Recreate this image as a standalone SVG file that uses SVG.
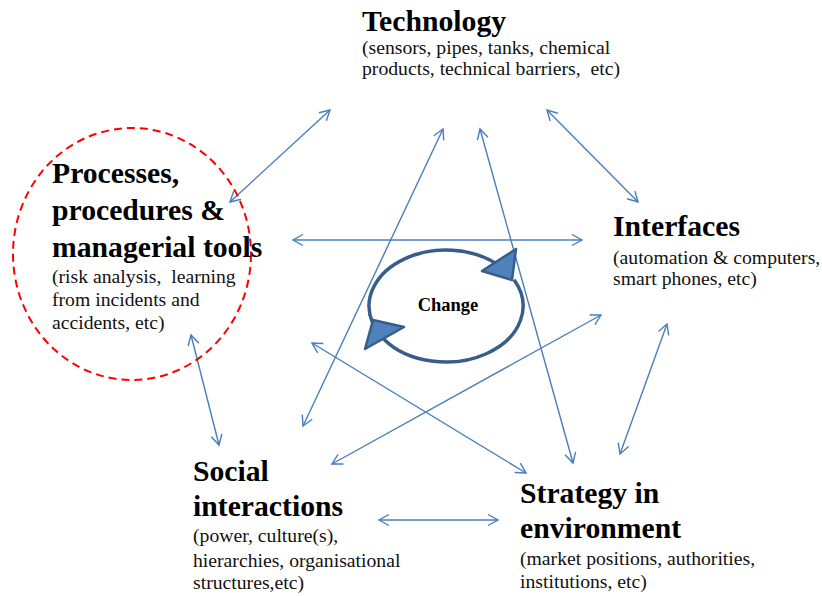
<svg xmlns="http://www.w3.org/2000/svg" width="822" height="596" viewBox="0 0 822 596">
<style>
.t{font-family:"Liberation Serif","Times New Roman",serif;font-weight:bold;font-size:29.7px;fill:#000}
.s{font-family:"Liberation Serif","Times New Roman",serif;font-size:19.7px;fill:#111}
.c{stroke:#4a7ebb;stroke-width:1.4;fill:none;marker-start:url(#ah);marker-end:url(#ah)}
.arc{fill:none;stroke:#385d8a;stroke-width:3.5}
.tri{fill:#4f81bd;stroke:#385d8a;stroke-width:2.5;stroke-linejoin:round}
</style>
<defs>
<marker id="ah" viewBox="-12 -8 14 16" refX="0" refY="0" markerWidth="14" markerHeight="16" markerUnits="userSpaceOnUse" orient="auto-start-reverse">
<path d="M-10,-5.5 L0,0 L-10,5.5" fill="none" stroke="#4a7ebb" stroke-width="1.4"/>
</marker>
</defs>
<rect width="822" height="596" fill="#fff"/>
<g id="connectors">
<line class="c" x1="330" y1="110" x2="230" y2="202"/>
<line class="c" x1="293" y1="240" x2="582" y2="240"/>
<line class="c" x1="443" y1="129" x2="303" y2="426"/>
<line class="c" x1="480" y1="129" x2="573" y2="463"/>
<line class="c" x1="547" y1="110" x2="638" y2="202"/>
<line class="c" x1="601" y1="315" x2="332" y2="464"/>
<line class="c" x1="312" y1="343" x2="526" y2="473"/>
<line class="c" x1="667" y1="324" x2="620" y2="454"/>
<line class="c" x1="191" y1="335" x2="219" y2="445"/>
<line class="c" x1="379" y1="520" x2="498" y2="520"/>
</g>
<g id="technology">
<text class="t" x="362" y="31">Technology</text>
<text class="s" x="362" y="54">(sensors, pipes, tanks, chemical</text>
<text class="s" x="362" y="75">products, technical barriers,&#160; etc)</text>
</g>
<g id="processes">
<ellipse cx="132" cy="254" rx="119" ry="126" fill="none" stroke="#ff0000" stroke-width="2" stroke-dasharray="8 5"/>
<text class="t" x="52" y="183">Processes,</text>
<text class="t" x="52" y="220">procedures &amp;</text>
<text class="t" x="52" y="257">managerial tools</text>
<text class="s" x="52" y="283">(risk analysis,&#160; learning</text>
<text class="s" x="52" y="306">from incidents and</text>
<text class="s" x="52" y="329">accidents, etc)</text>
</g>
<g id="interfaces">
<text class="t" x="613" y="236">Interfaces</text>
<text class="s" x="613" y="264">(automation &amp; computers,</text>
<text class="s" x="613" y="285">smart phones, etc)</text>
</g>
<g id="social">
<text class="t" x="193" y="481">Social</text>
<text class="t" x="193" y="516">interactions</text>
<text class="s" x="193" y="542">(power, culture(s),</text>
<text class="s" x="193" y="567">hierarchies, organisational</text>
<text class="s" x="193" y="589">structures,etc)</text>
</g>
<g id="strategy">
<text class="t" x="520" y="503">Strategy in</text>
<text class="t" x="520" y="538">environment</text>
<text class="s" x="520" y="565">(market positions, authorities,</text>
<text class="s" x="520" y="588">institutions, etc)</text>
</g>
<g id="change">
<path class="arc" d="M372.4,322.4 A77,56 0 0 1 497.5,264.4"/>
<path class="arc" d="M514,279.7 A77,56 0 0 1 383.7,338.9"/>
<polygon class="tri" points="516,249 482,271 512,280"/>
<polygon class="tri" points="365,349 373,320 404,327"/>
<text x="448" y="311" text-anchor="middle" font-family="Liberation Serif, Times New Roman, serif" font-weight="bold" font-size="18.5">Change</text>
</g>
</svg>
